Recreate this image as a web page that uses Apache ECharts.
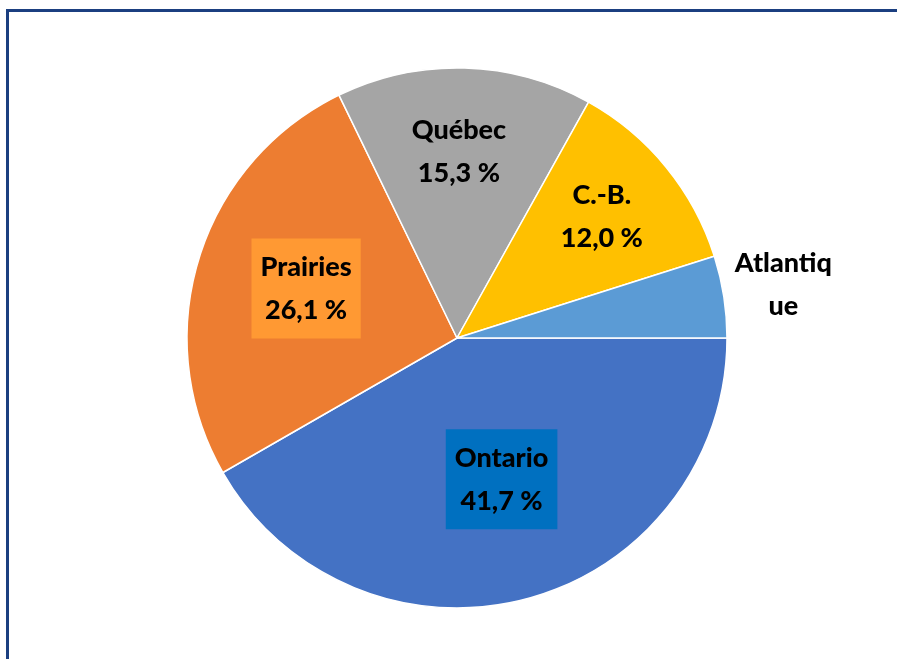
<!DOCTYPE html>
<html>
<head>
<meta charset="utf-8">
<script src="https://cdn.jsdelivr.net/npm/echarts@6/dist/echarts.min.js"></script>
<style>
  html, body { margin: 0; padding: 0; background: #fff; }
  #chart { width: 897px; height: 659px; }
</style>
</head>
<body>
<div id="chart"></div>
<script>
  // regions and their shares (%)
  var regions = ['Ontario', 'Prairies', 'Québec', 'C.-B.', 'Atlantique'];
  var shares = [41.7, 26.1, 15.3, 12.0, 4.9];
  var colors = ['#4472C4', '#ED7D31', '#A5A5A5', '#FFC000', '#5B9BD5'];

  // label tweaks, Excel style placement
  var labelOffsets = [[9, 8], [-19, -9], [-2, -48], [38, -34], [190, -32]];
  var labelBoxes = ['#0070C0', '#FF9933', null, null, null];

  var fmt = function (v) { return v.toFixed(1).replace('.', ',') + ' %'; };

  var data = regions.map(function (name, i) {
    var lbl = {
      offset: labelOffsets[i],
      formatter: i === 4 ? 'Atlantiq\nue' : name + '\n' + fmt(shares[i])
    };
    if (labelBoxes[i]) {
      lbl.backgroundColor = labelBoxes[i];
      lbl.padding = [7, 9, 7, 9];
    }
    return { name: name, value: shares[i], itemStyle: { color: colors[i] }, label: lbl };
  });

  var chart = echarts.init(document.getElementById('chart'));
  chart.setOption({
    animation: false,
    graphic: [{
      type: 'rect',
      shape: { x: 7.5, y: 10.5, width: 1200, height: 1200 },
      style: { fill: 'none', stroke: '#1B3F80', lineWidth: 3 }
    }],
    series: [{
      type: 'pie',
      center: [457, 338],
      radius: 270,
      startAngle: 0,
      clockwise: true,
      data: data,
      itemStyle: { borderColor: '#fff', borderWidth: 1.5 },
      label: {
        show: true,
        position: 'inside',
        color: '#000',
        fontFamily: 'Lato',
        fontWeight: 900,
        fontSize: 27,
        lineHeight: 43,
        align: 'center'
      },
      labelLine: { show: false },
      emphasis: { disabled: true }
    }]
  });
</script>
</body>
</html>
